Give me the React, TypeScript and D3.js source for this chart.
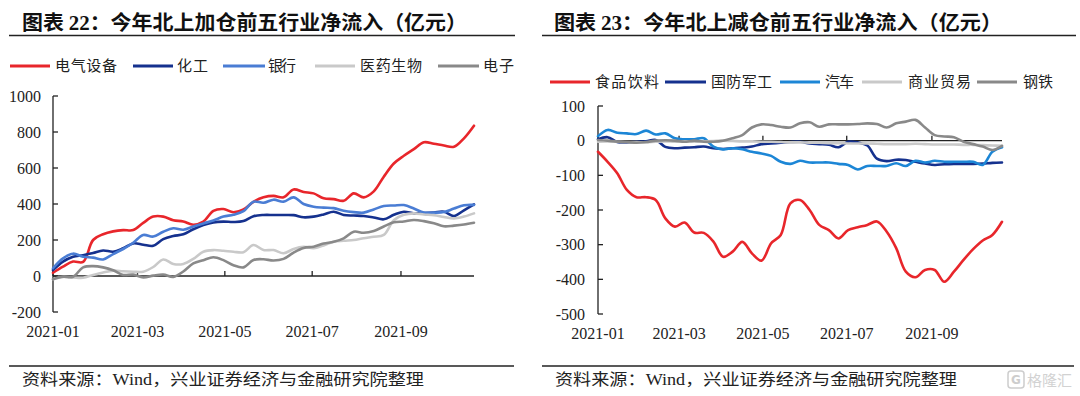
import * as d3 from 'd3'
import type { ReactElement } from 'react'

// weekly observation dates shared by both panels
const weekDates = [
  '2021-01-01', '2021-01-08', '2021-01-15', '2021-01-22', '2021-01-29',
  '2021-02-05', '2021-02-12', '2021-02-19', '2021-02-26',
  '2021-03-05', '2021-03-12', '2021-03-19', '2021-03-26',
  '2021-04-02', '2021-04-09', '2021-04-16', '2021-04-23', '2021-04-30',
  '2021-05-07', '2021-05-14', '2021-05-21', '2021-05-28',
  '2021-06-04', '2021-06-11', '2021-06-18', '2021-06-25',
  '2021-07-02', '2021-07-09', '2021-07-16', '2021-07-23', '2021-07-30',
  '2021-08-06', '2021-08-13', '2021-08-20', '2021-08-27',
  '2021-09-03', '2021-09-10', '2021-09-17', '2021-09-24',
  '2021-10-01', '2021-10-08', '2021-10-15', '2021-10-22',
]
const xDomain = ['2021-01-01', '2021-10-22']
const xTickLabels = ['2021-01', '2021-03', '2021-05', '2021-07', '2021-09']

// 图表22: 加仓前五
const addNames = ['电气设备', '化工', '银行', '医药生物', '电子']
const addElectric = [
  18, 52, 80, 78, 200, 232, 248, 255, 255, 295, 330, 330, 310, 303, 285, 302, 362, 372, 354, 370,
  412, 437, 445, 437, 481, 467, 459, 432, 427, 418, 459, 437, 470, 552, 625, 668, 705, 743, 735, 725,
  718, 765, 835,
]
const addChemical = [
  33, 80, 107, 115, 128, 142, 135, 154, 181, 174, 168, 205, 222, 232, 260, 283, 298, 302, 300, 305,
  332, 339, 339, 339, 338, 326, 330, 342, 357, 339, 336, 333, 325, 315, 340, 357, 348, 350, 353, 357,
  333, 365, 398,
]
const addBank = [
  43, 98, 124, 107, 102, 92, 122, 150, 185, 228, 219, 246, 265, 257, 275, 292, 308, 330, 340, 360,
  413, 407, 424, 413, 437, 400, 385, 380, 377, 362, 355, 352, 370, 389, 392, 394, 375, 352, 352, 355,
  375, 393, 395,
]
const addPharma = [
  -18, -6, -8, -10, 6, 20, 30, 26, 24, 24, 50, 92, 67, 67, 95, 135, 144, 140, 135, 132,
  172, 144, 144, 126, 150, 162, 154, 170, 190, 196, 200, 210, 218, 228, 310, 340, 348, 342, 338, 328,
  320, 330, 348,
]
const addElectronics = [
  -18, -4, -4, 48, 55, 48, 32, 6, 8, -8, 2, 8, -5, 25, 70, 88, 104, 88, 60, 48,
  89, 93, 86, 95, 130, 156, 163, 180, 190, 209, 246, 240, 250, 275, 298, 303, 311, 305, 293, 276,
  280, 286, 296,
]
const addTicks = [-200, 0, 200, 400, 600, 800, 1000]

// 图表23: 减仓前五
const cutNames = ['食品饮料', '国防军工', '汽车', '商业贸易', '钢铁']
const cutFood = [
  -32, -61, -94, -142, -163, -163, -171, -224, -248, -236, -265, -266, -291, -335, -320, -292, -325, -346, -296, -272,
  -181, -171, -200, -243, -258, -282, -258, -250, -243, -233, -262, -310, -378, -394, -373, -373, -407, -378, -344, -313,
  -288, -272, -234,
]
const cutDefense = [
  4, 10, -4, -5, -3, -2, 2, -18, -22, -20, -19, -17, -22, -24, -22, -20, -17, -10, -8, -6,
  -4, -3, -8, -10, -12, -19, -3, -5, -14, -52, -59, -55, -56, -61, -66, -70, -68, -67, -67, -67,
  -66, -64, -63,
]
const cutAuto = [
  13, 31, 23, 21, 19, 29, 18, 21, 7, 4, 4, 7, -17, -25, -22, -25, -32, -37, -44, -61,
  -67, -58, -63, -63, -63, -67, -70, -83, -73, -73, -73, -65, -73, -58, -63, -58, -61, -61, -61, -61,
  -70, -32, -19,
]
const cutTrade = [
  -3, -2, -3, -4, -4, -5, -3, -2, -3, -2, -3, -2, -1, 0, -1, -2, -2, -3, -3, -4,
  -5, -5, -6, -6, -7, -7, -8, -8, -8, -9, -10, -10, -10, -9, -10, -11, -11, -11, -12, -12,
  -13, -14, -15,
]
const cutSteel = [
  2, 0, -3, -4, -6, -4, 0, 1, 0, -3, 0, -3, -3, 0, 7, 16, 38, 47, 45, 40,
  38, 50, 53, 40, 47, 47, 47, 48, 50, 48, 38, 50, 55, 60, 38, 16, 12, 10, -3, -10,
  -17, -27, -15,
]
const cutTicks = [-500, -400, -300, -200, -100, 0, 100]

const sourceNote = ['资料来源：', 'Wind', '，兴业证券经济与金融研究院整理']

const cjk = '"Noto Sans CJK SC", sans-serif'
const serif = '"Liberation Serif", "Times New Roman", serif'

type SeriesDef = { name: string; values: number[]; color: string }
type LegendSlot = { lineX0: number; lineX1: number; textX: number; textW: number }
type Layout = {
  left: number
  right: number
  yTop: number
  yBottom: number
  tickLabelX: number
  xLabelY: number
  titleX: number
  titleW: number
  ruleX0: number
  ruleX1: number
  legendY: number
  legend: LegendSlot[]
  footX: number
  footRule: [number, number]
}

const parseDay = d3.timeParse('%Y-%m-%d')
const parseMonth = d3.timeParse('%Y-%m')

function Panel({
  num,
  heading,
  series,
  yTicks,
  layout,
}: {
  num: string
  heading: string
  series: SeriesDef[]
  yTicks: number[]
  layout: Layout
}): ReactElement {
  const x = d3
    .scaleTime()
    .domain(xDomain.map((d) => parseDay(d)!))
    .range([layout.left, layout.right])
  const y = d3
    .scaleLinear()
    .domain([yTicks[0], yTicks[yTicks.length - 1]])
    .range([layout.yBottom, layout.yTop])
  const dates = weekDates.map((d) => parseDay(d)!)
  const line = d3
    .line<number>()
    .x((_, i) => x(dates[i]))
    .y((v) => y(v))
    .curve(d3.curveCatmullRom.alpha(0.5))
  const y0 = y(0)

  return (
    <g>
      {/* title */}
      <text
        x={layout.titleX}
        y={30}
        fontFamily={cjk}
        fontWeight={700}
        fontSize={20}
        fill="#111"
        textLength={layout.titleW}
        lengthAdjust="spacingAndGlyphs"
      >
        图表 <tspan fontFamily={serif}>{num}</tspan>：{heading}
      </text>
      <line x1={layout.ruleX0} x2={layout.ruleX1} y1={35.5} y2={35.5} stroke="#222" strokeWidth={1.6} />

      {/* legend */}
      {series.map((s, i) => {
        const slot = layout.legend[i]
        return (
          <g key={s.name}>
            <line
              x1={slot.lineX0}
              x2={slot.lineX1}
              y1={layout.legendY}
              y2={layout.legendY}
              stroke={s.color}
              strokeWidth={3}
            />
            <text
              x={slot.textX}
              y={layout.legendY + 5}
              fontFamily={cjk}
              fontSize={15}
              fill="#222"
              textLength={slot.textW}
              lengthAdjust="spacing"
            >
              {s.name}
            </text>
          </g>
        )
      })}

      {/* y axis */}
      <line x1={layout.left} x2={layout.left} y1={layout.yTop} y2={layout.yBottom} stroke="#222" strokeWidth={1.3} />
      {yTicks.map((t) => (
        <g key={t}>
          <line x1={layout.left} x2={layout.left + 5} y1={y(t)} y2={y(t)} stroke="#222" strokeWidth={1.3} />
          <text
            x={layout.tickLabelX}
            y={y(t)}
            dy="0.35em"
            textAnchor="end"
            fontFamily={serif}
            fontSize={16}
            fill="#222"
          >
            {t}
          </text>
        </g>
      ))}

      {/* x axis on zero */}
      <line x1={layout.left} x2={layout.right} y1={y0} y2={y0} stroke="#222" strokeWidth={1.3} />
      {xTickLabels.map((l) => {
        const px = x(parseMonth(l)!)
        return (
          <g key={l}>
            <line x1={px} x2={px} y1={y0} y2={y0 - 5} stroke="#222" strokeWidth={1.3} />
            <text x={px} y={layout.xLabelY} textAnchor="middle" fontFamily={serif} fontSize={16} fill="#222">
              {l}
            </text>
          </g>
        )
      })}

      {/* series */}
      {series.map((s) => (
        <path
          key={s.name}
          d={line(s.values) ?? ''}
          fill="none"
          stroke={s.color}
          strokeWidth={2.6}
          strokeLinejoin="round"
          strokeLinecap="round"
        />
      ))}

      {/* source */}
      <line x1={layout.footRule[0]} x2={layout.footRule[1]} y1={366} y2={366} stroke="#222" strokeWidth={1.6} />
      <text
        x={layout.footX}
        y={385}
        fontFamily={cjk}
        fontSize={16}
        fill="#222"
        textLength={402}
        lengthAdjust="spacingAndGlyphs"
      >
        {sourceNote[0]}
        <tspan fontFamily={serif}>{sourceNote[1]}</tspan>
        {sourceNote[2]}
      </text>
    </g>
  )
}

const leftLayout: Layout = {
  left: 53,
  right: 474,
  yTop: 96,
  yBottom: 312,
  tickLabelX: 41,
  xLabelY: 337,
  titleX: 22,
  titleW: 445,
  ruleX0: 9,
  ruleX1: 515,
  legendY: 66,
  legend: [
    { lineX0: 10, lineX1: 50, textX: 55, textW: 62 },
    { lineX0: 133, lineX1: 173, textX: 177, textW: 31 },
    { lineX0: 223, lineX1: 265, textX: 268, textW: 28 },
    { lineX0: 315, lineX1: 355, textX: 360, textW: 62 },
    { lineX0: 438, lineX1: 479, textX: 483, textW: 31 },
  ],
  footX: 22,
  footRule: [9, 514],
}

const rightLayout: Layout = {
  left: 598,
  right: 1002,
  yTop: 106,
  yBottom: 314,
  tickLabelX: 585,
  xLabelY: 339,
  titleX: 554,
  titleW: 448,
  ruleX0: 542,
  ruleX1: 1076,
  legendY: 82,
  legend: [
    { lineX0: 550, lineX1: 590, textX: 595, textW: 64 },
    { lineX0: 665, lineX1: 706, textX: 711, textW: 61 },
    { lineX0: 780, lineX1: 820, textX: 825, textW: 29 },
    { lineX0: 862, lineX1: 902, textX: 908, textW: 63 },
    { lineX0: 977, lineX1: 1017, textX: 1023, textW: 30 },
  ],
  footX: 555,
  footRule: [542, 1074],
}

export default function App(): ReactElement {
  const addSeries: SeriesDef[] = [
    { name: addNames[0], values: addElectric, color: '#E8262B' },
    { name: addNames[1], values: addChemical, color: '#15318E' },
    { name: addNames[2], values: addBank, color: '#4A7DD4' },
    { name: addNames[3], values: addPharma, color: '#C9C9C9' },
    { name: addNames[4], values: addElectronics, color: '#898989' },
  ]
  const cutSeries: SeriesDef[] = [
    { name: cutNames[0], values: cutFood, color: '#E8262B' },
    { name: cutNames[1], values: cutDefense, color: '#15318E' },
    { name: cutNames[2], values: cutAuto, color: '#1C86D6' },
    { name: cutNames[3], values: cutTrade, color: '#C9C9C9' },
    { name: cutNames[4], values: cutSteel, color: '#898989' },
  ]

  return (
    <svg
      width={1080}
      height={396}
      viewBox="0 0 1080 396"
      style={{ position: 'absolute', left: 0, top: 0, background: '#fff' }}
    >
      <rect width={1080} height={396} fill="#fff" />
      <Panel num="22" heading="今年北上加仓前五行业净流入（亿元）" series={addSeries} yTicks={addTicks} layout={leftLayout} />
      <Panel num="23" heading="今年北上减仓前五行业净流入（亿元）" series={cutSeries} yTicks={cutTicks} layout={rightLayout} />

      {/* watermark */}
      <g opacity={0.75}>
        <rect x={1008} y={371} width={16} height={17} rx={3} fill="none" stroke="#bdbdbd" strokeWidth={1.5} />
        <text x={1016} y={384} textAnchor="middle" fontFamily={'"DejaVu Sans", sans-serif'} fontSize={12} fontWeight={700} fill="#bdbdbd">
          G
        </text>
        <text x={1027} y={386} fontFamily={cjk} fontSize={15} fill="#c4c4c4" textLength={45} lengthAdjust="spacingAndGlyphs">
          格隆汇
        </text>
      </g>
    </svg>
  )
}
